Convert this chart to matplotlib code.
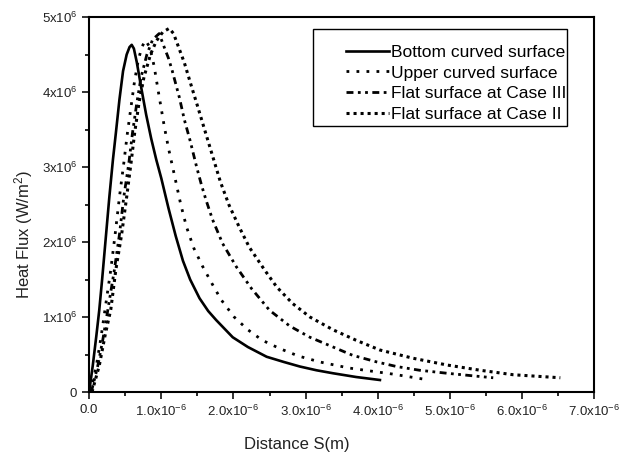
import numpy as np
import matplotlib
matplotlib.use("Agg")
import matplotlib.pyplot as plt
from matplotlib.ticker import MultipleLocator, FuncFormatter
from matplotlib.patches import Rectangle

plt.rcParams['font.family'] = ['Liberation Sans', 'DejaVu Sans']
plt.rcParams['mathtext.fontset'] = 'custom'
plt.rcParams['mathtext.rm'] = 'Liberation Sans'
plt.rcParams['mathtext.it'] = 'Liberation Sans'
plt.rcParams['mathtext.bf'] = 'Liberation Sans'
plt.rcParams['axes.unicode_minus'] = False

# distance in micrometres (x1e-6 m), heat flux in MW/m^2 (x1e6 W/m^2)
bottom_x = [0, 0.05, 0.1, 0.14, 0.18, 0.23, 0.28, 0.33, 0.37, 0.42, 0.47, 0.52, 0.56,
            0.59, 0.62, 0.66, 0.72, 0.79, 0.86, 0.93, 1.0, 1.1, 1.2, 1.3, 1.4, 1.53,
            1.65, 1.76, 1.88, 1.99, 2.2, 2.46, 2.7, 2.92, 3.15, 3.38, 3.7, 4.03]
bottom_y = [0, 0.35, 0.75, 1.09, 1.5, 2.05, 2.6, 3.1, 3.45, 3.9, 4.28, 4.5, 4.6,
            4.63, 4.58, 4.4, 4.07, 3.7, 3.38, 3.1, 2.85, 2.45, 2.08, 1.75, 1.5, 1.25,
            1.08, 0.96, 0.84, 0.73, 0.6, 0.47, 0.4, 0.34, 0.29, 0.25, 0.2, 0.16]

upper_x = [0.02, 0.1, 0.16, 0.22, 0.3, 0.36, 0.42, 0.48, 0.53, 0.58, 0.63, 0.68, 0.73,
           0.78, 0.84, 0.9, 0.96, 1.04, 1.1, 1.18, 1.27, 1.35, 1.45, 1.57, 1.7, 1.83,
           2.01, 2.2, 2.4, 2.64, 2.9, 3.2, 3.6, 4.2, 4.71]
upper_y = [0, 0.35, 0.7, 1.1, 1.63, 2.1, 2.6, 3.05, 3.45, 3.8, 4.15, 4.42, 4.6,
           4.69, 4.6, 4.35, 4.0, 3.55, 3.25, 2.9, 2.5, 2.2, 1.92, 1.68, 1.45, 1.23,
           1.0, 0.83, 0.69, 0.58, 0.48, 0.4, 0.32, 0.24, 0.16]

case3_x = [0.03, 0.12, 0.19, 0.26, 0.35, 0.42, 0.48, 0.55, 0.6, 0.66, 0.72, 0.8, 0.88,
           0.97, 1.04, 1.1, 1.15, 1.25, 1.32, 1.4, 1.49, 1.56, 1.62, 1.71, 1.85, 2.04,
           2.25, 2.5, 2.78, 3.06, 3.38, 3.65, 3.99, 4.26, 4.58, 4.96, 5.38, 5.6]
case3_y = [0, 0.35, 0.7, 1.1, 1.63, 2.1, 2.6, 3.05, 3.45, 3.85, 4.2, 4.5, 4.7,
           4.78, 4.6, 4.45, 4.29, 3.93, 3.63, 3.35, 3.0, 2.75, 2.56, 2.3, 1.98, 1.67,
           1.38, 1.09, 0.88, 0.73, 0.6, 0.49, 0.4, 0.34, 0.29, 0.25, 0.21, 0.19]

case2_x = [0.04, 0.14, 0.22, 0.3, 0.37, 0.45, 0.52, 0.58, 0.63, 0.69, 0.76, 0.85, 0.93,
           1.02, 1.11, 1.17, 1.22, 1.27, 1.32, 1.42, 1.5, 1.6, 1.71, 1.82, 1.94, 2.08,
           2.22, 2.43, 2.6, 2.82, 3.06, 3.38, 3.7, 4.03, 4.49, 4.96, 5.42, 5.88, 6.53]
case2_y = [0, 0.35, 0.75, 1.1, 1.63, 2.1, 2.6, 3.05, 3.45, 3.85, 4.2, 4.5, 4.68,
           4.8, 4.85, 4.78, 4.65, 4.52, 4.39, 4.07, 3.82, 3.5, 3.15, 2.8, 2.49, 2.2,
           1.93, 1.63, 1.4, 1.18, 1.0, 0.83, 0.69, 0.56, 0.45, 0.36, 0.29, 0.23, 0.19]

labels = ['Bottom curved surface', 'Upper curved surface',
          'Flat surface at Case III', 'Flat surface at Case II']

fig = plt.figure(figsize=(6.19, 4.62), dpi=100)
ax = fig.add_axes([0.144, 0.1515, 0.816, 0.8115])

ax.plot(np.array(bottom_x) * 1e-6, np.array(bottom_y) * 1e6, color='black', lw=1.9,
        ls='-', label=labels[0])
ax.plot(np.array(upper_x) * 1e-6, np.array(upper_y) * 1e6, color='black', lw=2.0,
        ls=(0, (1, 2.6)), label=labels[1])
ax.plot(np.array(case3_x) * 1e-6, np.array(case3_y) * 1e6, color='black', lw=2.0,
        ls=(0, (2.5, 1.6, 1, 1.6, 1, 1.6)), label=labels[2])
ax.plot(np.array(case2_x) * 1e-6, np.array(case2_y) * 1e6, color='black', lw=2.2,
        ls=(0, (1, 1.3)), label=labels[3])

ax.set_xlim(0, 7e-6)
ax.set_ylim(0, 5e6)
ax.xaxis.set_major_locator(MultipleLocator(1e-6))
ax.xaxis.set_minor_locator(MultipleLocator(0.5e-6))
ax.yaxis.set_major_locator(MultipleLocator(1e6))
ax.yaxis.set_minor_locator(MultipleLocator(0.5e6))


def xfmt(v, pos):
    n = round(v / 1e-6, 1)
    if n == 0:
        return '0.0'
    return '%.1fx10$^{-6}$' % n


def yfmt(v, pos):
    n = int(round(v / 1e6))
    if n == 0:
        return '0'
    return '%dx10$^{6}$' % n


ax.xaxis.set_major_formatter(FuncFormatter(xfmt))
ax.yaxis.set_major_formatter(FuncFormatter(yfmt))
ax.tick_params(which='major', direction='out', length=5, width=1.3, labelsize=9.5,
               colors='#222222')
ax.tick_params(which='minor', direction='out', length=3, width=1.2)
for s in ax.spines.values():
    s.set_linewidth(1.5)

ax.set_xlabel('Distance S(m)', fontsize=12, color='#222222')
ax.set_ylabel('Heat Flux (W/m$^{2}$)', fontsize=12, color='#222222')
ax.xaxis.set_label_coords(0.412, -0.12)
ax.yaxis.set_label_coords(-0.107, 0.42)

leg = ax.legend(loc='upper right', bbox_to_anchor=(0.962, 0.95), fontsize=12.5,
                handlelength=2.5, handletextpad=0.1, labelspacing=0.33,
                borderpad=0, frameon=False)
ax.add_patch(Rectangle((0.4436, 0.7093), 0.9465 - 0.4436, 0.968 - 0.7093,
                       transform=ax.transAxes, fill=False, edgecolor='black',
                       lw=1.0, zorder=5))

fig.savefig('out.png', dpi=100)
